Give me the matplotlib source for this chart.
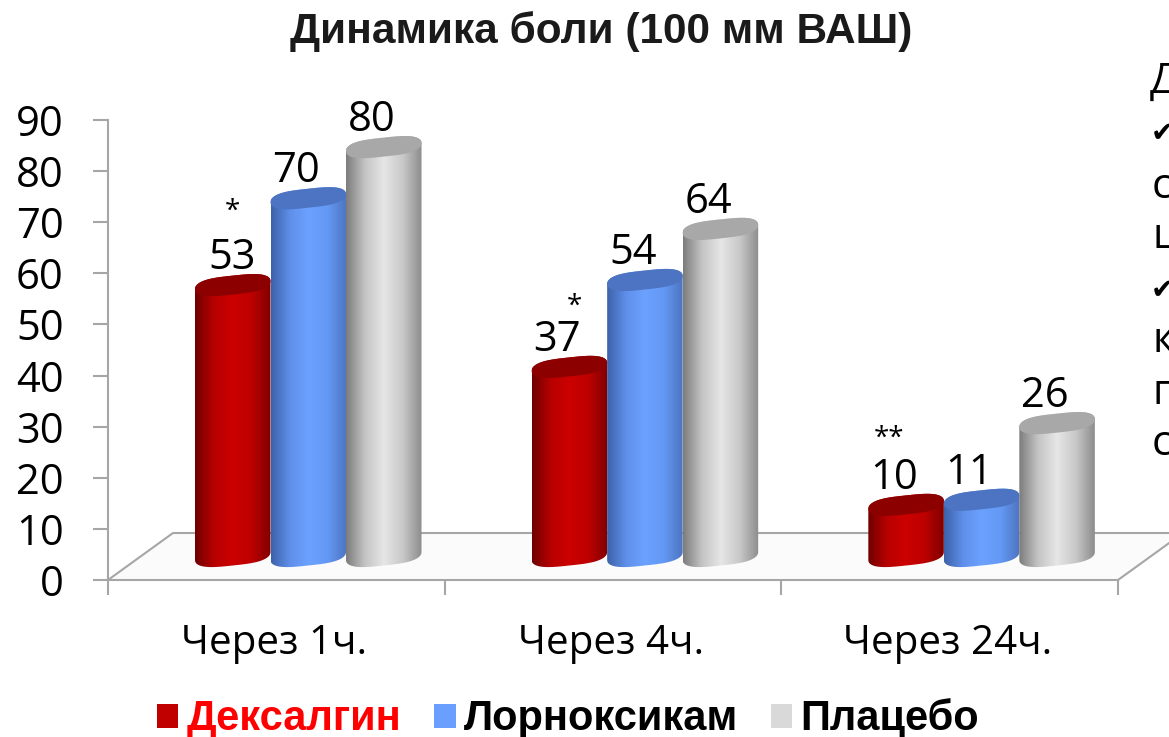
import numpy as np
import matplotlib
matplotlib.use('Agg')
import matplotlib.pyplot as plt
from matplotlib.colors import LinearSegmentedColormap
from matplotlib.patches import Patch, Polygon

W, H = 1169, 737

# данные
periods = ['Через 1ч.', 'Через 4ч.', 'Через 24ч.']
series_names = ['Дексалгин', 'Лорноксикам', 'Плацебо']
dexalgin = [53, 37, 10]
lornoxicam = [70, 54, 11]
placebo = [80, 64, 26]
stars = ['*', '*', '**']
y_ticks = [0, 10, 20, 30, 40, 50, 60, 70, 80, 90]
side_letters = ['с', 'ц', 'к', 'п', 'с']

grad_colors = [
    ['#6e0000', '#b80000', '#cc0000', '#bc0000', '#800000'],
    ['#3c62a8', '#5f8fea', '#6ca2ff', '#6398f4', '#4d74c0'],
    ['#7c7c7c', '#c4c4c4', '#e6e6e6', '#c8c8c8', '#8c8c8c'],
]
cap_colors = ['#8c0000', '#4d74c2', '#a8a8a8']
swatch_colors = ['#c00000', '#6a9fff', '#d9d9d9']
legend_text_colors = ['#ff0000', '#000000', '#000000']
GRID = '#a6a6a6'

# геометрия в пикселях исходной картинки
X0, X1, Y0, Y90 = 108, 1118, 580, 120
cat_px = (X1 - X0) / 3
unit_px = (Y0 - Y90) / 90
bar_w = 75.5 / cat_px
first_gap = 87 / cat_px
base = 24 / unit_px  # основание цилиндров смещено вглубь
depth_x = 65 / cat_px
depth_y = 47 / unit_px

fig = plt.figure(figsize=(W / 100, H / 100), dpi=100, facecolor='white')
ax = fig.add_axes([X0 / W, 1 - Y0 / H, (X1 - X0) / W, (Y0 - Y90) / H])
ax.set_facecolor('none')


def ellipse(cx, cy, t):
    # слегка "квадратный" эллипс, как у сглаженных цилиндров
    a = bar_w / 2
    tilt = 4 / unit_px
    b = 9.5 / unit_px
    c = np.sign(np.cos(t)) * np.abs(np.cos(t)) ** 0.6
    s = np.sign(np.sin(t)) * np.abs(np.sin(t)) ** 0.9
    return np.column_stack([cx + a * c, cy + tilt * c + b * s])


def draw_cylinder(left, value, idx):
    cx = left + bar_w / 2
    top = base + value
    lower = ellipse(cx, base, np.linspace(np.pi, 2 * np.pi, 40))
    upper = ellipse(cx, top, np.linspace(0, np.pi, 40))
    body = Polygon(np.vstack([lower, upper]), closed=True, transform=ax.transData,
                   facecolor='none', edgecolor='none')
    ax.add_patch(body)
    cmap = LinearSegmentedColormap.from_list('c', grad_colors[idx])
    grad = np.linspace(0, 1, 256).reshape(1, -1)
    im = ax.imshow(grad, cmap=cmap, aspect='auto', zorder=3 + idx * 0.1,
                   extent=[left, left + bar_w, 0, top + 3], interpolation='bilinear')
    im.set_clip_path(body)
    cap = Polygon(ellipse(cx, top, np.linspace(0, 2 * np.pi, 80)), closed=True,
                  facecolor=cap_colors[idx], edgecolor='none', zorder=3.05 + idx * 0.1)
    ax.add_patch(cap)


# пол
floor = Polygon([(0, 0), (3, 0), (3 + depth_x, depth_y), (depth_x, depth_y)], closed=True,
                facecolor='#fbfbfb', edgecolor='none', zorder=1, clip_on=False)
ax.add_patch(floor)
ax.plot([0, depth_x, 3.3], [0, depth_y, depth_y], color=GRID, lw=1.5, zorder=2, clip_on=False)
ax.plot([3, 3 + depth_x], [0, depth_y], color=GRID, lw=1.5, zorder=2, clip_on=False)

all_series = [dexalgin, lornoxicam, placebo]
for g in range(3):
    for s, values in enumerate(all_series):
        left = g + first_gap + s * bar_w
        draw_cylinder(left, values[g], s)
        # подпись значения смещена влево от центра, кроме первой
        dx = -1 if (g == 0 and s == 0) else -12
        ax.annotate(str(values[g]), (left + bar_w / 2, base + values[g]),
                    xytext=(dx * 0.72, 27 * 0.72), textcoords='offset points',
                    ha='center', va='center', fontsize=30, family='Open Sans',
                    color='#000000', zorder=5, annotation_clip=False)

star_pos = [(232, 212), (574, 307), (889, 439)]
for (px, py), st in zip(star_pos, stars):
    fig.text(px / W, 1 - py / H, st, ha='center', va='center', fontsize=20,
             family='Open Sans', color='#000000')

ax.set_xlim(0, 3)
ax.set_ylim(0, 90)
ax.set_xticks([0, 1, 2, 3])
ax.set_xticklabels([])
ax.set_yticks(y_ticks)
ax.set_yticklabels([str(v) for v in y_ticks], fontsize=30, family='Open Sans')
ax.tick_params(axis='both', color=GRID, width=1.5, length=11)
ax.tick_params(axis='y', pad=21)
for side in ['top', 'right']:
    ax.spines[side].set_visible(False)
for side in ['left', 'bottom']:
    ax.spines[side].set_color(GRID)
    ax.spines[side].set_linewidth(1.5)

for i, name in enumerate(periods):
    fig.text((X0 + cat_px * (i + 0.5) - 2) / W, 1 - 644 / H, name, ha='center', va='center',
             fontsize=29, family='Open Sans', color='#000000')

fig.text(601 / W, 1 - 32 / H, 'Динамика боли (100 мм ВАШ)', ha='center', va='center',
         fontsize=30.5, fontweight='bold', family='Liberation Sans', color='#1a1a1a')

handles = [Patch(facecolor=c, edgecolor='none') for c in swatch_colors]
ax.legend(handles, series_names, loc='center', bbox_to_anchor=(568 / W, 1 - 719 / H),
          bbox_transform=fig.transFigure, ncol=3, frameon=False,
          prop={'family': 'Liberation Sans', 'weight': 'bold', 'size': 30},
          labelcolor=legend_text_colors, handlelength=0.52, handleheight=0.52,
          handletextpad=0.2, columnspacing=0.78)

# обрезанный справа текст соседнего блока
fig.text(1150 / W, 1 - 82 / H, 'Д', ha='left', va='center', fontsize=30, family='Open Sans', color='#000000')
for py in [133, 290]:
    fig.text(1151 / W, 1 - py / H, '\u2714', ha='left', va='center', fontsize=20,
             family='DejaVu Sans', color='#000000')
for py, ch in zip([187, 237, 341, 393, 444], side_letters):
    fig.text(1152 / W, 1 - py / H, ch, ha='left', va='center', fontsize=30,
             family='Open Sans', color='#000000')

plt.savefig('out.png', dpi=100)
